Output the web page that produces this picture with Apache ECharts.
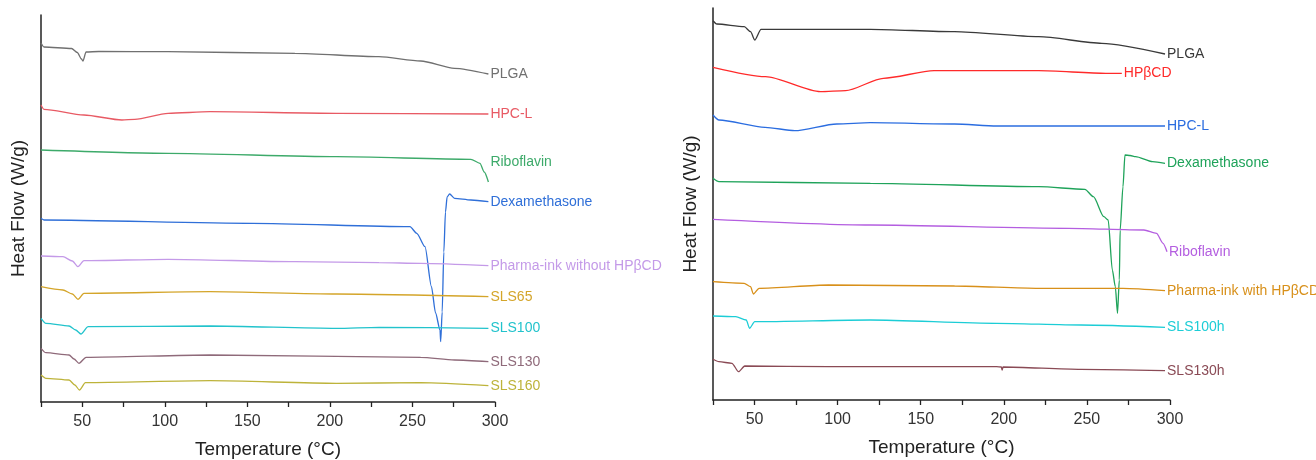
<!DOCTYPE html>
<html>
<head>
<meta charset="utf-8">
<script src="https://cdn.jsdelivr.net/npm/echarts@6/dist/echarts.min.js"></script>
<style>
  html, body { margin: 0; padding: 0; background: #fff; }
  #chart { width: 1316px; height: 460px; }
</style>
</head>
<body>
<div id="chart"></div>
<script>
// x = temperature (°C), y = heat flow, arbitrary offset units (no y scale shown)
var xTicks = [50, 100, 150, 200, 250, 300];

// left panel
var plgaL = [[25,359],[26.8,355],[43.5,353.5],[47,349.5],[49.5,343],[50.4,341],[52.3,350],[60,350.5],[102,350.3],[178.8,348.7],[229.7,345.3],[255,341],[275.5,333.7],[296,328]];
var hpclL = [[25,297],[26.8,292.7],[51,287],[74,282],[81.8,282.7],[102,288.7],[127.4,290.3],[204,288.7],[296,288]];
var ribofL = [[25,252],[102,248.7],[204,245.3],[285.4,242.7],[290.9,238.7],[293.5,230],[296,220]];
var dexaL = [[25,183.7],[26.8,182],[153,178.7],[248.5,175.3],[252.6,168.7],[257.6,155.3],[261.5,115.3],[264,89],[266.7,72],[267.1,60.3],[268,90],[269,150],[270,190],[271,205],[272.5,208],[275.5,203.7],[285.4,202],[296,200.3]];
var inkNoL = [[25,146],[38.3,145.3],[44,141],[47.4,135.3],[51,141.3],[102,142.7],[178.8,140.3],[229.7,139.3],[255,138.7],[296,136.3]];
var sls65 = [[25,115.3],[38.3,112],[44,108],[47.4,102.7],[51,108.7],[127.4,110.3],[204,108],[296,105.3]];
var sls100 = [[25,83.7],[28,78.7],[42,76],[46,72],[49.2,68],[53.5,75.3],[127.4,76],[204,73.7],[229.7,74.7],[296,73.7]];
var sls130 = [[25,53.7],[28,49.3],[42,47],[45,43],[48,38.7],[52.3,44.7],[127.4,47],[255,44.7],[275.5,42],[296,40.3]];
var sls160 = [[25,27],[28,23.7],[42,22],[45.5,17],[48.3,12],[51.9,19.3],[127.4,21.3],[204,18.7],[255,19.3],[296,16.3]];

// right panel
var plgaR = [[25,379.3],[27.3,376],[43.8,373.3],[47.6,368.3],[50.1,360],[53.9,370.7],[119.7,370.7],[170.4,368.3],[221,363.3],[259,356.7],[297,346]];
var hpbcdR = [[25,332.7],[56.6,323.3],[89.6,308.3],[104.8,309.3],[127.5,321.7],[158,329.3],[221,329.3],[261.4,326.7],[271,326.7]];
var hpclR = [[25,285],[28.6,280],[56.3,272.7],[74.2,269.3],[99.5,276],[119.7,277.3],[170.4,276],[195.7,274],[297,274]];
var dexaR = [[25,221.7],[28.6,218.3],[119.7,216.7],[221,213.3],[248.8,210.7],[253.9,203.3],[260.2,183.3],[262.8,180],[265.3,130],[267.1,113.3],[268.4,86.7],[269.5,120],[270,170],[271.7,213.3],[272.9,245],[276,244.5],[279.3,243.3],[289.5,238.3],[297,236.7]];
var ribofR = [[25,180.7],[119.7,175],[238.6,171.7],[284.3,170],[291.9,166.7],[295.8,156.7],[298.2,148.3]];
var inkWithR = [[25,118.3],[43.8,116.7],[47.6,113.3],[49.3,106],[52.7,111.7],[94.5,115],[170.4,114],[221,111.7],[271.7,111.7],[297,109.3]];
var sls100h = [[25,84],[38.7,83.3],[45,80],[47,71.7],[50.1,78.3],[119.7,80],[195.7,76.7],[246.4,75],[297,72.7]];
var sls130h = [[25,40.7],[28.6,38.3],[36.4,36.7],[40.4,28.3],[44.1,34],[94.5,33.3],[195.7,33.3],[198.5,33],[199,30],[199.5,33],[246.4,30.7],[297,29.3]];

var font = 'Liberation Sans, Arial, sans-serif';

function curve(name, data, color, panel, dy) {
    return {
        name: name,
        type: 'line',
        xAxisIndex: panel,
        yAxisIndex: panel,
        data: data,
        smooth: 0.25,
        smoothMonotone: 'x',
        showSymbol: false,
        symbol: 'none',
        clip: false,
        lineStyle: { color: color, width: 1.3 },
        endLabel: {
            show: true,
            formatter: '{a}',
            color: color,
            fontFamily: font,
            fontSize: 14,
            distance: 2,
            offset: [0, dy || 0]
        }
    };
}

function xAx(idx) {
    return {
        type: 'value',
        gridIndex: idx,
        min: 25, max: 300, interval: 25,
        name: 'Temperature (°C)',
        nameLocation: 'middle',
        nameGap: 38,
        nameTextStyle: { fontFamily: font, fontSize: 19, color: '#222' },
        axisLine: { show: true, lineStyle: { color: '#222', width: 1.5 } },
        axisTick: { show: true, length: 5, lineStyle: { color: '#222', width: 1.3 } },
        axisLabel: {
            fontFamily: font, fontSize: 16, color: '#333', margin: 12,
            formatter: function(v) { return xTicks.indexOf(v) >= 0 ? String(v) : ''; }
        },
        splitLine: { show: false }
    };
}

function yAx(idx, top) {
    return {
        type: 'value',
        gridIndex: idx,
        min: 0, max: top,
        name: 'Heat Flow (W/g)',
        nameLocation: 'middle',
        nameGap: 13,
        nameRotate: 90,
        nameTextStyle: { fontFamily: font, fontSize: 19, color: '#222' },
        axisLine: { show: true, lineStyle: { color: '#222', width: 1.5 } },
        axisTick: { show: false },
        axisLabel: { show: false },
        splitLine: { show: false }
    };
}

var chart = echarts.init(document.getElementById('chart'));
chart.setOption({
    backgroundColor: '#fff',
    animation: false,
    grid: [
        { left: 41, top: 15, width: 454, height: 387, outerBoundsMode: 'none', containLabel: false },
        { left: 713, top: 8, width: 457, height: 392, outerBoundsMode: 'none', containLabel: false }
    ],
    xAxis: [xAx(0), xAx(1)],
    yAxis: [yAx(0, 387), yAx(1, 392)],
    series: [
        curve('PLGA', plgaL, '#707070', 0),
        curve('HPC-L', hpclL, '#e85a64', 0),
        curve('Riboflavin', ribofL, '#3daa6a', 0, -20),
        curve('Dexamethasone', dexaL, '#2f6fd8', 0),
        curve('Pharma-ink without HPβCD', inkNoL, '#c49ae8', 0),
        curve('SLS65', sls65, '#d4a52a', 0),
        curve('SLS100', sls100, '#22c3cc', 0),
        curve('SLS130', sls130, '#8f6a7a', 0),
        curve('SLS160', sls160, '#bdb33a', 0),

        curve('PLGA', plgaR, '#3a3a3a', 1),
        curve('HPβCD', hpbcdR, '#ff2a2a', 1),
        curve('HPC-L', hpclR, '#2b6de0', 1),
        curve('Dexamethasone', dexaR, '#1fa35a', 1),
        curve('Riboflavin', ribofR, '#b45ee0', 1),
        curve('Pharma-ink with HPβCD', inkWithR, '#d8901a', 1),
        curve('SLS100h', sls100h, '#1ccdd6', 1),
        curve('SLS130h', sls130h, '#8a4a55', 1)
    ]
});
</script>
</body>
</html>
